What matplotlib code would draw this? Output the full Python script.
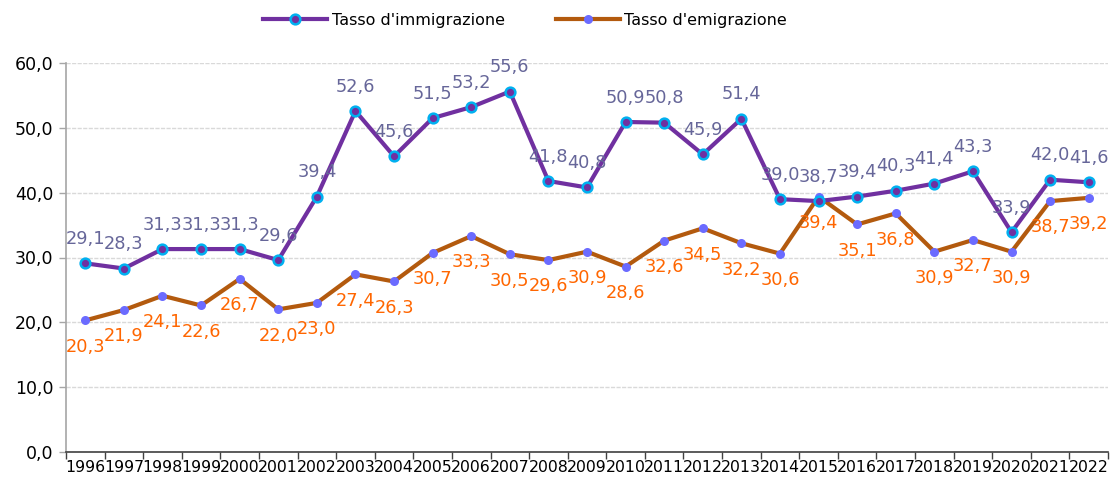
import matplotlib
matplotlib.use("Agg")
import matplotlib.pyplot as plt
import numpy as np

years = [str(y) for y in range(1996, 2023)]
immigrazione = [29.1, 28.3, 31.3, 31.3, 31.3, 29.6, 39.4, 52.6, 45.6, 51.5, 53.2, 55.6, 41.8, 40.8,
                50.9, 50.8, 45.9, 51.4, 39.0, 38.7, 39.4, 40.3, 41.4, 43.3, 33.9, 42.0, 41.6]
emigrazione = [20.3, 21.9, 24.1, 22.6, 26.7, 22.0, 23.0, 27.4, 26.3, 30.7, 33.3, 30.5, 29.6, 30.9,
               28.6, 32.6, 34.5, 32.2, 30.6, 39.4, 35.1, 36.8, 30.9, 32.7, 30.9, 38.7, 39.2]
series_names = ["Tasso d'immigrazione", "Tasso d'emigrazione"]
yticks = [0, 10, 20, 30, 40, 50, 60]

plt.rcParams['font.family'] = ['DejaVu Sans']

fig = plt.figure(figsize=(11.10, 4.79), dpi=100)
ax = fig.add_axes([66/1110, 1-452/479, (1108-66)/1110, (452-63)/479])

x = np.arange(len(years))
l1, = ax.plot(x, immigrazione, color='#7030A0', lw=3, marker='o', ms=7,
              mfc='#7030A0', mec='#00B0F0', mew=1.8, zorder=4, label=series_names[0])
l2, = ax.plot(x, emigrazione, color='#B35A0E', lw=3, marker='o', ms=6.5,
              mfc='#6B6BFF', mec='#6B6BFF', mew=0, zorder=3, label=series_names[1])

def fmt(v):
    return f"{v:.1f}".replace('.', ',')

for xi, v in zip(x, immigrazione):
    ax.annotate(fmt(v), (xi, v), xytext=(0, 17.5), textcoords='offset points',
                ha='center', va='center', fontsize=12.8, color='#666699', zorder=5)
for xi, v in zip(x, emigrazione):
    ax.annotate(fmt(v), (xi, v), xytext=(0, -19), textcoords='offset points',
                ha='center', va='center', fontsize=12.8, color='#FF6600', zorder=5)

ax.set_xlim(-0.5, len(years) - 0.5)
ax.set_ylim(0, 60)
ax.set_yticks(yticks)
ax.set_yticklabels([fmt(t) for t in yticks], fontsize=12.5)
ax.set_xticks(x)
ax.set_xticklabels(years, fontsize=11.3)
ax.set_xticks(np.arange(len(years) + 1) - 0.5, minor=True)
ax.tick_params(axis='x', which='major', length=0, pad=6)
ax.tick_params(axis='x', which='minor', length=5, color='#404040', width=1)
ax.tick_params(axis='y', length=5, color='#A6A6A6', width=1, pad=4)

ax.grid(axis='y', color='#D9D9D9', lw=1, ls=(0, (3, 1)))
ax.set_axisbelow(True)
for s in ['top', 'right']:
    ax.spines[s].set_visible(False)
ax.spines['left'].set_color('#A6A6A6')
ax.spines['left'].set_linewidth(1.2)
ax.spines['bottom'].set_color('#404040')
ax.spines['bottom'].set_linewidth(1.2)

fig.legend(handles=[l1, l2], loc='center', bbox_to_anchor=(525/1110, 1-20/479), ncol=2,
           frameon=False, fontsize=11.5, handlelength=4.0, columnspacing=3.2, handletextpad=0.3)

fig.savefig('out.png', dpi=100)
